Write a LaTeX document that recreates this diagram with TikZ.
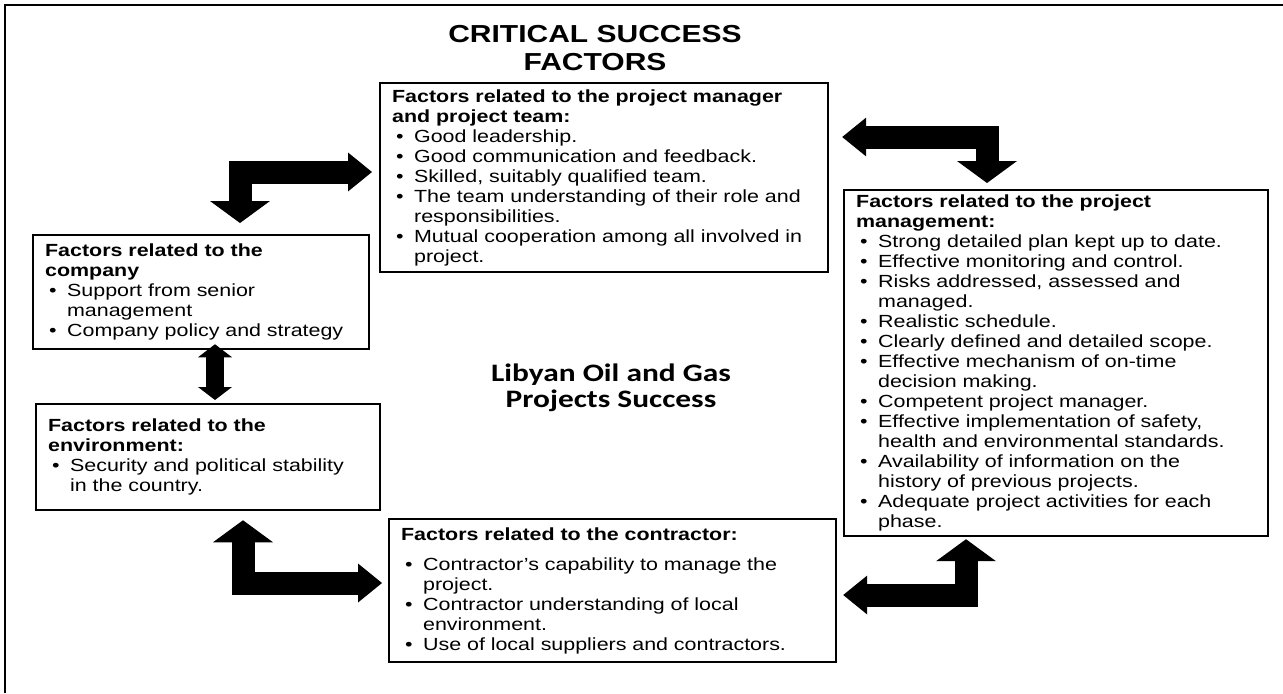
\documentclass[tikz,border=0pt]{standalone}
\usepackage{fontspec}
\setmainfont{Liberation Sans}[FakeStretch=1.22]
\newfontfamily\calib{Carlito}[FakeStretch=1.25]
\usetikzlibrary{arrows.meta}

% 見出しと箇条書きの行
\newcommand{\hd}[1]{\mbox{\bfseries #1}}
\newcommand{\itm}[1]{\mbox{\makebox[0.44cm][l]{\hspace{0.08cm}\textbullet}#1}}
\newcommand{\nxt}[1]{\mbox{\hspace*{0.44cm}#1}}

\tikzset{
  factorbox/.style={draw, fill=white, line width=1.3pt, anchor=north west, align=left,
    inner xsep=0.24cm, inner ysep=0pt, font=\fontsize{10pt}{11.38pt}\selectfont},
  vtip/.tip={Triangle[width=1.2cm, length=0.44cm, line width=0pt]},
  htip/.tip={Triangle[width=0.78cm, length=0.48cm, line width=0pt]},
  stip/.tip={Triangle[width=0.68cm, length=0.26cm, line width=0pt]},
  blockarrow/.style={line width=0.46cm, line join=miter},
  smallarrow/.style={line width=0.36cm, stip-stip},
}

\begin{document}
\begin{tikzpicture}[x=0.02cm, y=-0.02cm]
  \useasboundingbox (0,0) rectangle (1283,693);

  % --- 外枠 ---
  \draw[line width=1.2pt] (5,693) -- (5,5) -- (1283,5);

  % --- タイトル ---
  \node[font=\bfseries\fontsize{14pt}{15.9pt}\selectfont, align=center] (title) at (595,48)
    {CRITICAL SUCCESS\\FACTORS};

  % --- 要因のボックス ---
  \node[factorbox, text width=8.48cm, minimum height=3.78cm] (manager) at (379,82) {%
    \hd{Factors related to the project manager}\\
    \hd{and project team:}\\
    \itm{Good leadership.}\\
    \itm{Good communication and feedback.}\\
    \itm{Skilled, suitably qualified team.}\\
    \itm{The team understanding of their role and}\\
    \nxt{responsibilities.}\\
    \itm{Mutual cooperation among all involved in}\\
    \nxt{project.}};

  \node[factorbox, text width=8.00cm, minimum height=6.92cm] (pm) at (843,189) {%
    \hd{Factors related to the project}\\
    \hd{management:}\\
    \itm{Strong detailed plan kept up to date.}\\
    \itm{Effective monitoring and control.}\\
    \itm{Risks addressed, assessed and}\\
    \nxt{managed.}\\
    \itm{Realistic schedule.}\\
    \itm{Clearly defined and detailed scope.}\\
    \itm{Effective mechanism of on-time}\\
    \nxt{decision making.}\\
    \itm{Competent project manager.}\\
    \itm{Effective implementation of safety,}\\
    \nxt{health and environmental standards.}\\
    \itm{Availability of information on the}\\
    \nxt{history of previous projects.}\\
    \itm{Adequate project activities for each}\\
    \nxt{phase.}};

  \node[factorbox, text width=6.24cm, minimum height=2.28cm] (company) at (32,234) {%
    \hd{Factors related to the}\\
    \hd{company}\\
    \itm{Support from senior}\\
    \nxt{management}\\
    \itm{Company policy and strategy}};

  \node[factorbox, text width=6.40cm, minimum height=2.12cm] (env) at (35,403) {%
    \hd{Factors related to the}\\
    \hd{environment:}\\
    \itm{Security and political stability}\\
    \nxt{in the country.}};

  \node[factorbox, text width=8.46cm, minimum height=2.86cm] (contractor) at (388,518) {%
    \hd{Factors related to the contractor:}\\[5.7pt]
    \itm{Contractor’s capability to manage the}\\
    \nxt{project.}\\
    \itm{Contractor understanding of local}\\
    \nxt{environment.}\\
    \itm{Use of local suppliers and contractors.}};

  % --- 中央のテキスト ---
  \node[font=\calib\bfseries\fontsize{14.3pt}{14.8pt}\selectfont, align=center] (hub) at (611,388)
    {Libyan Oil and Gas\\Projects Success};

  % --- ブロック矢印 ---
  \draw[blockarrow, vtip-htip] ([shift={(208,-11)}]company.north west)
    |- ([shift={(-7,90)}]manager.north west);
  \draw[blockarrow, htip-vtip] ([shift={(13,55)}]manager.north east)
    -| ([shift={(144,-6)}]pm.north west);
  \draw[blockarrow, vtip-htip] ([shift={(208,9)}]env.south west)
    |- ([shift={(-6,65)}]contractor.north west);
  \draw[blockarrow, htip-vtip] ([shift={(6,77)}]contractor.north east)
    -| ([shift={(123,2)}]pm.south west);
  \draw[smallarrow] ([shift={(183,-6)}]company.south west)
    -- ([shift={(180,-3)}]env.north west);
\end{tikzpicture}
\end{document}
